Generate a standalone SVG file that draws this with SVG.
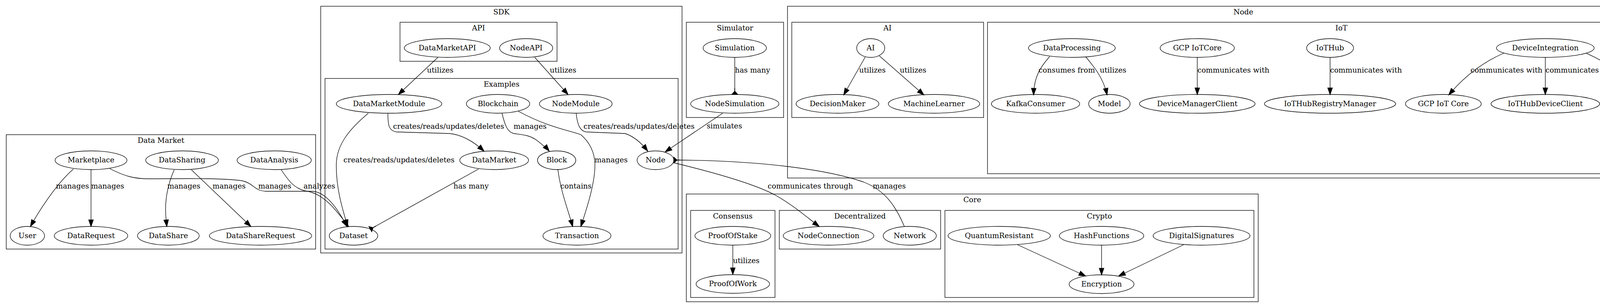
<svg xmlns="http://www.w3.org/2000/svg" width="4367" height="789" viewBox="0 0 4367 789">
<style>
text{font-family:"DejaVu Serif","Liberation Serif",serif;font-size:18.67px;text-anchor:middle;fill:#000}
.c{fill:none;stroke:#000;stroke-width:1.33}
.n ellipse{fill:none;stroke:#000;stroke-width:1.33}
.e path{fill:none;stroke:#000;stroke-width:1.33;marker-end:url(#arr)}
.e path.crow{marker-end:url(#crow)}
</style>
<defs>
<marker id="arr" markerUnits="userSpaceOnUse" orient="auto" refX="13.33" refY="0" markerWidth="20" markerHeight="20" viewBox="-1 -6 16 12" overflow="visible"><path d="M0,-4.67L13.33,0L0,4.67Z" fill="#000" stroke="#000" stroke-width="1.33"/></marker>
<marker id="crow" markerUnits="userSpaceOnUse" orient="auto" refX="13.33" refY="0" markerWidth="20" markerHeight="20" viewBox="-1 -7 16 14" overflow="visible"><path d="M13.33,0L13.33,-6L6.67,0L0,0L6.67,0L13.33,6Z" fill="#000" stroke="#000" stroke-width="1.33"/></marker>
</defs>
<rect width="4367" height="789" fill="#fff"/>
<g id="clusters">
<g id="cluster_datamarket"><rect class="c" x="16" y="345" width="792" height="293"/><text x="412" y="365.5">Data Market</text></g>
<g id="cluster_sdk"><rect class="c" x="821" y="16" width="925" height="632"/><text x="1283.5" y="36.5">SDK</text></g>
<g id="cluster_api"><rect class="c" x="1024" y="57" width="402" height="100"/><text x="1225" y="77.5">API</text></g>
<g id="cluster_examples"><rect class="c" x="832" y="201" width="904" height="437"/><text x="1284" y="221.5">Examples</text></g>
<g id="cluster_simulator"><rect class="c" x="1757" y="57" width="249" height="244"/><text x="1881.5" y="77.5">Simulator</text></g>
<g id="cluster_node"><rect class="c" x="2016" y="16" width="2334" height="440"/><text x="3183" y="36.5">Node</text></g>
<g id="cluster_ai"><rect class="c" x="2027" y="57" width="491" height="244"/><text x="2272" y="77.5">AI</text></g>
<g id="cluster_iot"><rect class="c" x="2528" y="57" width="1812" height="388"/><text x="3434" y="77.5">IoT</text></g>
<g id="cluster_core"><rect class="c" x="1757" y="497" width="1464" height="276"/><text x="2489" y="517.5">Core</text></g>
<g id="cluster_consensus"><rect class="c" x="1768" y="539" width="216" height="223"/><text x="1876" y="559.5">Consensus</text></g>
<g id="cluster_decentralized"><rect class="c" x="1995" y="539" width="413" height="99"/><text x="2201.5" y="559.5">Decentralized</text></g>
<g id="cluster_crypto"><rect class="c" x="2419" y="539" width="791" height="223"/><text x="2814.5" y="559.5">Crypto</text></g>
</g>
<g id="edges" class="e">
<path d="M188,433 C145,470 100,540 78,580"/>
<path d="M233,434 L233,580"/>
<path d="M281,432 C320,452 345,458 380,458 C450,458 560,455 620,463 C650,470 650,488 680,490 L800,490 C835,492 865,535 888,580"/>
<path d="M446,435 C430,470 423,510 424,540 C424,555 426,570 427,580"/>
<path d="M490,435 L642,580"/>
<path d="M720,435 C740,465 755,485 787,490 C830,497 862,540 892,580"/>
<path d="M1121,147 L1020,242"/>
<path d="M1369,147 L1454,242"/>
<path d="M993,290 C993,320 995,335 1015,338 L1150,342 C1185,345 1215,365 1239,387"/>
<path d="M943,290 C895,330 862,370 861,420 C860,480 875,530 890,580"/>
<path d="M1285,290 C1292,318 1298,338 1315,342 C1335,345 1355,345 1375,360 C1390,372 1400,380 1406,387"/>
<path d="M1327,285 C1400,325 1460,335 1487,345 C1510,365 1522,390 1523,420 C1524,470 1500,540 1487,580"/>
<path d="M1475,290 C1478,320 1485,335 1500,338 L1600,342 C1625,350 1645,370 1658,387"/>
<path class="crow" d="M1225,433 L948,587"/>
<path d="M1428,433 C1435,490 1455,540 1466,580"/>
<path d="M1850,290 L1703,389"/>
<path class="crow" d="M2315,580 C2290,520 2260,485 2210,466 C2120,435 1950,411 1725,410"/>
<path d="M1725,417 C1820,440 1930,470 1985,500 C2030,525 2070,560 2097,580"/>
<path class="crow" d="M1881,147 L1881,242"/>
<path d="M2215,146 L2160,243"/>
<path d="M2251,143 L2365,243"/>
<path d="M2687,145 C2665,170 2647,195 2646,243"/>
<path d="M2779,145 C2800,170 2825,200 2834,243"/>
<path d="M3065,147 L3065,242"/>
<path d="M3405,147 L3405,242"/>
<path d="M3850,136 C3790,162 3745,200 3709,243"/>
<path d="M3956,147 L3956,242"/>
<path d="M4060,136 C4110,158 4170,195 4208,243"/>
<path d="M4222,290 L4217,387"/>
<path d="M1876,628 L1876,703"/>
<path d="M2605,627 L2779,707"/>
<path d="M2820,628 L2820,704"/>
<path d="M3030,627 L2864,707"/>
<g id="edge-labels">
<text x="185.5" y="482.5">manages</text>
<text x="275.5" y="482.5">manages</text>
<text x="470.5" y="482.5">manages</text>
<text x="586.5" y="482.5">manages</text>
<text x="703.5" y="482.5">manages</text>
<text x="817.5" y="482.5">analyzes</text>
<text x="1127" y="185.5">utilizes</text>
<text x="1441.5" y="185.5">utilizes</text>
<text x="1148.5" y="329.5">creates/reads/updates/deletes</text>
<text x="1357" y="329.5">manages</text>
<text x="1636" y="329.5">creates/reads/updates/deletes</text>
<text x="1021.5" y="415.5">creates/reads/updates/deletes</text>
<text x="1564.5" y="415.5">manages</text>
<text x="1206" y="482.5">has many</text>
<text x="1474.5" y="482.5">contains</text>
<text x="1926.5" y="186">has many</text>
<text x="2233.5" y="186">utilizes</text>
<text x="2337.5" y="186">utilizes</text>
<text x="1854.5" y="328.5">simulates</text>
<text x="2074.5" y="482.5">communicates through</text>
<text x="2276.5" y="482.5">manages</text>
<text x="1910.5" y="674">utilizes</text>
<text x="2731" y="186">consumes from</text>
<text x="2849.5" y="186">utilizes</text>
<text x="3157.5" y="186">communicates with</text>
<text x="3497" y="186">communicates with</text>
<text x="3856.5" y="186">communicates with</text>
<text x="4048.5" y="186">communicates with</text>
<text x="4226.5" y="186">publishes to</text>
<text x="4276" y="329.5">produces to</text>
</g>
</g>
<g id="nodes" class="n">
<g id="Marketplace"><ellipse cx="233" cy="410.5" rx="92" ry="24"/><text x="233" y="416">Marketplace</text></g>
<g id="DataSharing"><ellipse cx="466" cy="410.5" rx="93" ry="24"/><text x="466" y="416">DataSharing</text></g>
<g id="DataAnalysis"><ellipse cx="702" cy="410.5" rx="95" ry="24"/><text x="702" y="416">DataAnalysis</text></g>
<g id="User"><ellipse cx="70" cy="604" rx="44" ry="24"/><text x="70" y="609.5">User</text></g>
<g id="DataRequest"><ellipse cx="233" cy="604" rx="94" ry="24"/><text x="233" y="609.5">DataRequest</text></g>
<g id="DataShare"><ellipse cx="431" cy="604" rx="79" ry="24"/><text x="431" y="609.5">DataShare</text></g>
<g id="DataShareRequest"><ellipse cx="667" cy="604" rx="131" ry="24"/><text x="667" y="609.5">DataShareRequest</text></g>
<g id="DataMarketAPI"><ellipse cx="1145" cy="123" rx="110" ry="24"/><text x="1145" y="128.5">DataMarketAPI</text></g>
<g id="NodeAPI"><ellipse cx="1347" cy="123" rx="68" ry="24"/><text x="1347" y="128.5">NodeAPI</text></g>
<g id="DataMarketModule"><ellipse cx="996" cy="266" rx="135" ry="24"/><text x="996" y="271.5">DataMarketModule</text></g>
<g id="Blockchain"><ellipse cx="1275" cy="266" rx="81" ry="24"/><text x="1275" y="271.5">Blockchain</text></g>
<g id="NodeModule"><ellipse cx="1474" cy="266" rx="93" ry="24"/><text x="1474" y="271.5">NodeModule</text></g>
<g id="DataMarket"><ellipse cx="1265" cy="410.5" rx="88" ry="24"/><text x="1265" y="416">DataMarket</text></g>
<g id="Block"><ellipse cx="1425" cy="410.5" rx="49" ry="24"/><text x="1425" y="416">Block</text></g>
<g id="Node"><ellipse cx="1678" cy="410.5" rx="47" ry="24"/><text x="1678" y="416">Node</text></g>
<g id="Dataset"><ellipse cx="905" cy="604" rx="62" ry="24"/><text x="905" y="609.5">Dataset</text></g>
<g id="Transaction"><ellipse cx="1477" cy="604" rx="87" ry="24"/><text x="1477" y="609.5">Transaction</text></g>
<g id="Simulation"><ellipse cx="1881" cy="123" rx="81" ry="24"/><text x="1881" y="128.5">Simulation</text></g>
<g id="NodeSimulation"><ellipse cx="1881" cy="266" rx="113" ry="24"/><text x="1881" y="271.5">NodeSimulation</text></g>
<g id="AI"><ellipse cx="2229" cy="123" rx="36" ry="24"/><text x="2229" y="128.5">AI</text></g>
<g id="DecisionMaker"><ellipse cx="2144" cy="266" rx="106" ry="24"/><text x="2144" y="271.5">DecisionMaker</text></g>
<g id="MachineLearner"><ellipse cx="2391" cy="266" rx="117" ry="24"/><text x="2391" y="271.5">MachineLearner</text></g>
<g id="DataProcessing"><ellipse cx="2744" cy="123" rx="111" ry="24"/><text x="2744" y="128.5">DataProcessing</text></g>
<g id="GCPIoTCore"><ellipse cx="3065" cy="123" rx="95" ry="24"/><text x="3065" y="128.5">GCP IoTCore</text></g>
<g id="IoTHub"><ellipse cx="3405" cy="123" rx="60" ry="24"/><text x="3405" y="128.5">IoTHub</text></g>
<g id="DeviceIntegration"><ellipse cx="3956" cy="123" rx="125" ry="24"/><text x="3956" y="128.5">DeviceIntegration</text></g>
<g id="KafkaConsumer"><ellipse cx="2651" cy="266" rx="113" ry="24"/><text x="2651" y="271.5">KafkaConsumer</text></g>
<g id="Model"><ellipse cx="2840" cy="266" rx="53" ry="24"/><text x="2840" y="271.5">Model</text></g>
<g id="DeviceManagerClient"><ellipse cx="3065" cy="266" rx="148" ry="24"/><text x="3065" y="271.5">DeviceManagerClient</text></g>
<g id="IoTHubRegistryManager"><ellipse cx="3405" cy="266" rx="168" ry="24"/><text x="3405" y="271.5">IoTHubRegistryManager</text></g>
<g id="GCPIoTCore2"><ellipse cx="3695" cy="266" rx="97" ry="24"/><text x="3695" y="271.5">GCP IoT Core</text></g>
<g id="IoTHubDeviceClient"><ellipse cx="3956" cy="266" rx="139" ry="24"/><text x="3956" y="271.5">IoTHubDeviceClient</text></g>
<g id="KafkaProducer"><ellipse cx="4224" cy="266" rx="105" ry="24"/><text x="4224" y="271.5">KafkaProducer</text></g>
<g id="Kafka"><ellipse cx="4216" cy="410.5" rx="49" ry="24"/><text x="4216" y="416">Kafka</text></g>
<g id="ProofOfStake"><ellipse cx="1876" cy="604" rx="97" ry="24"/><text x="1876" y="609.5">ProofOfStake</text></g>
<g id="ProofOfWork"><ellipse cx="1876" cy="727.5" rx="94" ry="24"/><text x="1876" y="733">ProofOfWork</text></g>
<g id="NodeConnection"><ellipse cx="2121" cy="604" rx="116" ry="24"/><text x="2121" y="609.5">NodeConnection</text></g>
<g id="Network"><ellipse cx="2329" cy="604" rx="68" ry="24"/><text x="2329" y="609.5">Network</text></g>
<g id="QuantumResistant"><ellipse cx="2558" cy="604" rx="131" ry="24"/><text x="2558" y="609.5">QuantumResistant</text></g>
<g id="HashFunctions"><ellipse cx="2820" cy="604" rx="108" ry="24"/><text x="2820" y="609.5">HashFunctions</text></g>
<g id="DigitalSignatures"><ellipse cx="3076" cy="604" rx="124" ry="24"/><text x="3076" y="609.5">DigitalSignatures</text></g>
<g id="Encryption"><ellipse cx="2820" cy="728" rx="83" ry="24"/><text x="2820" y="733.5">Encryption</text></g>
</g>
</svg>
